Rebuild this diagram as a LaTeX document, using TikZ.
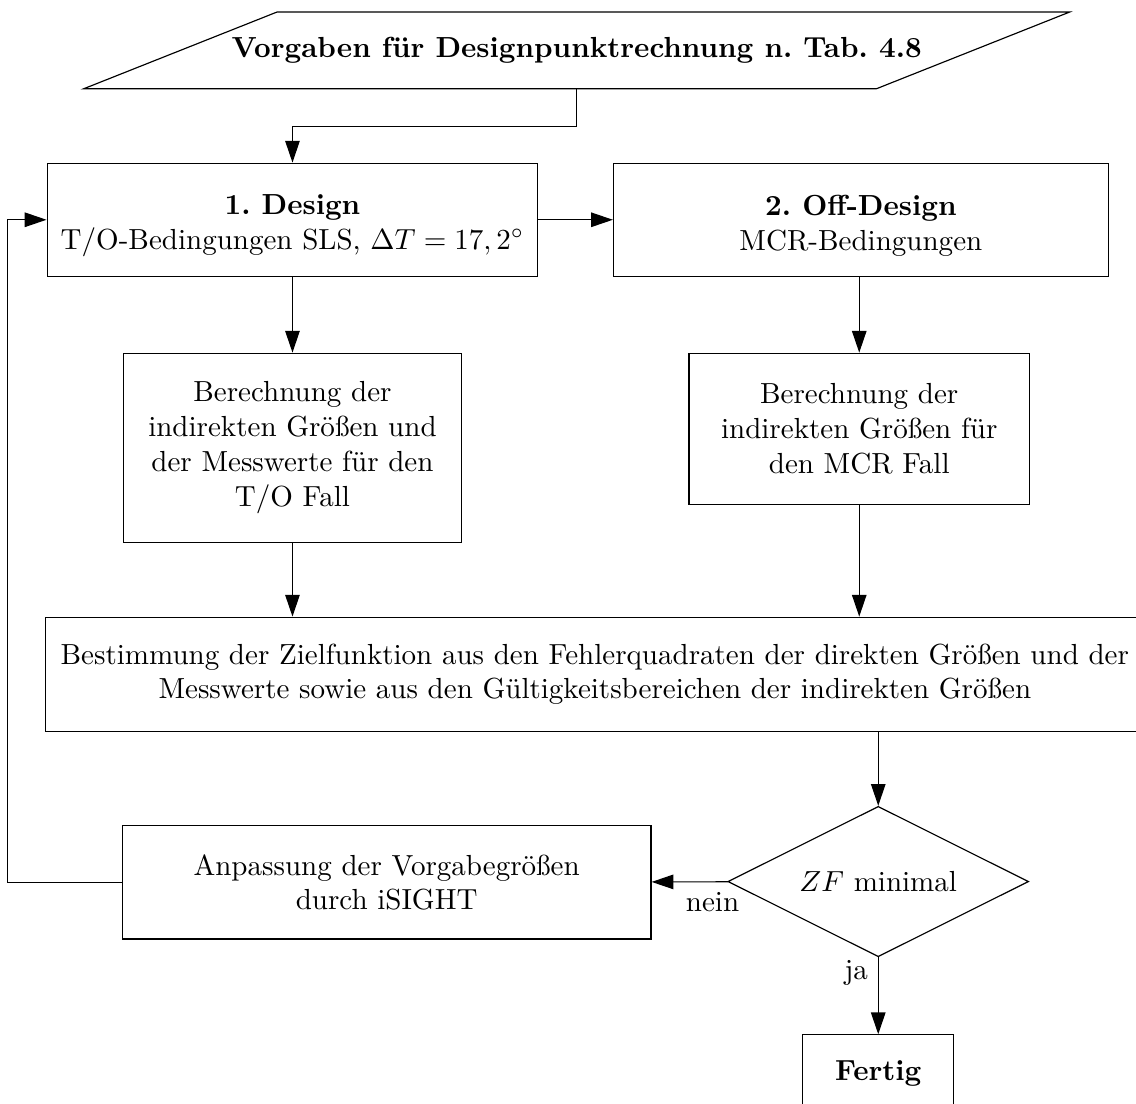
\documentclass[tikz,border=0pt]{standalone}
\usetikzlibrary{arrows.meta, shapes.geometric}

\begin{document}
\frenchspacing
\begin{tikzpicture}

\useasboundingbox (0, 0) rectangle (13.75, -13.36);

\begin{scope}[every node/.style={draw,align=center,inner sep=0pt}]
    \node (vorgaben) at (6.98, -0.61) [draw=none, minimum width=11.92cm, minimum height=0.915cm] {\textbf{Vorgaben für Designpunktrechnung n. Tab. 4.8}};

    \node (design) at (3.54, -2.66) [minimum width=5.94cm, minimum height=1.37cm] {\rule{0pt}{11pt}\textbf{1. Design}\\ T/O-Bedingungen SLS, $\Delta T = 17,2^\circ$};
    \node (offdesign) at (10.42, -2.66) [minimum width=5.99cm, minimum height=1.37cm] {\rule{0pt}{11pt}\textbf{2. Off-Design}\\ MCR-Bedingungen};

    \node (berT) at (3.54, -5.42) [minimum width=4.10cm, minimum height=2.29cm] {Berechnung der\\ indirekten Größen und\\ der Messwerte für den\\ T/O Fall};
    \node (berMCR) at (10.40, -5.19) [minimum width=4.12cm, minimum height=1.83cm] {Berechnung der\\ indirekten Größen für\\ den MCR Fall};

    \node (ziel) at (7.20, -8.16) [minimum width=13.29cm, minimum height=1.38cm] {Bestimmung der Zielfunktion aus den Fehlerquadraten der direkten Größen und der\\ Messwerte sowie aus den Gültigkeitsbereichen der indirekten Größen};

    \node (zfmin) at (10.63, -10.67) [diamond, aspect=2, minimum width=3.64cm, minimum height=1.82cm] {$ZF$ minimal};
    \node (anpassung) at (4.68, -10.68) [minimum width=6.40cm, minimum height=1.37cm] {Anpassung der Vorgabegrößen\\ durch iSIGHT};

    \node (fertig) at (10.63, -12.99) [minimum width=1.83cm, minimum height=0.93cm] {\textbf{Fertig}};
\end{scope}

\draw (vorgaben.south west) -- ([xshift=-2.34cm]vorgaben.south east) -- (vorgaben.north east) -- ([xshift=2.34cm]vorgaben.north west) -- cycle;

\begin{scope}[>={Triangle[length=7.5pt,width=5pt]},
              every edge/.style={draw}]

    \draw [->] (vorgaben.south) -- ++(0, -0.46) -| (design.north);

    \path [->] (design) edge (offdesign);
    \path [->] (design) edge (berT);
    \path [->] (berMCR.north |- offdesign.south) edge (berMCR.north);

    \path [->] (berT.south) edge (berT.south |- ziel.north);
    \path [->] (berMCR.south) edge (berMCR.south |- ziel.north);
    \path [->] (zfmin.north |- ziel.south) edge (zfmin.north);

    \path [->] (zfmin) edge node[below, pos=0.2] {nein} (anpassung);
    \path [->] (zfmin) edge node[left, pos=0.2] {ja} (fertig);

    \draw [->] (anpassung.west) -- ++(-1.38, 0) |- (design.west);
\end{scope}
\end{tikzpicture}
\end{document}
